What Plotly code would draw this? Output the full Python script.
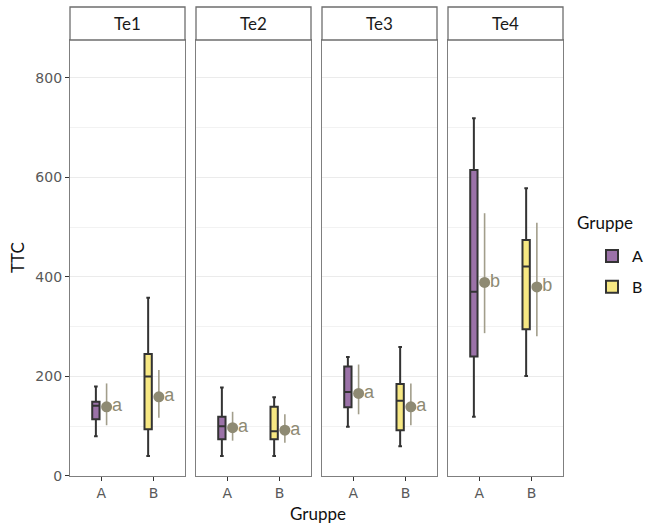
import plotly.graph_objects as go
from plotly.subplots import make_subplots

panels = ["Te1", "Te2", "Te3", "Te4"]
groups = ["A", "B"]
# boxplot stats per panel: [A, B]
lowerfence = [[80, 40], [40, 40], [99, 60], [119, 201]]
q1 = [[114, 94], [74, 74], [138, 92], [240, 295]]
median = [[141, 200], [100, 90], [169, 151], [370, 421]]
q3 = [[149, 245], [119, 139], [220, 185], [615, 474]]
upperfence = [[180, 358], [178, 158], [239, 259], [719, 578]]
# mean +/- interval
means = [[139, 159], [97, 92], [166, 139], [389, 380]]
err_lo = [[102, 117], [71, 67], [124, 102], [287, 281]]
err_hi = [[186, 213], [129, 124], [224, 186], [528, 509]]
letters = [["a", "a"], ["a", "a"], ["a", "a"], ["b", "b"]]

fills = {"A": "#9b72a8", "B": "#f7e883"}
olive = "#8e8a73"
font_main = "Lato, Open Sans, sans-serif"
font_tick = "DejaVu Sans, sans-serif"
font_letter = "Liberation Sans, Arial, sans-serif"

fig = make_subplots(rows=1, cols=4, shared_yaxes=True, horizontal_spacing=0)

for p in range(4):
    for g in range(2):
        xc = g + 1
        fig.add_trace(go.Box(
            x=[xc - 0.105], q1=[q1[p][g]], median=[median[p][g]], q3=[q3[p][g]],
            lowerfence=[lowerfence[p][g]], upperfence=[upperfence[p][g]],
            width=0.14, fillcolor=fills[groups[g]],
            line=dict(color="#333333", width=2),
            name=groups[g], legendgroup=groups[g], showlegend=(p == 0),
            hoverinfo="skip",
        ), row=1, col=p + 1)
        fig.add_trace(go.Scatter(
            x=[xc + 0.1], y=[means[p][g]], mode="markers",
            marker=dict(color=olive, size=11),
            error_y=dict(type="data", symmetric=False,
                         array=[err_hi[p][g] - means[p][g]],
                         arrayminus=[means[p][g] - err_lo[p][g]],
                         color="#a29e8b", thickness=1.6, width=0),
            showlegend=False, hoverinfo="skip",
        ), row=1, col=p + 1)
        fig.add_trace(go.Scatter(
            x=[xc + 0.3], y=[means[p][g]], mode="text", text=[letters[p][g]],
            textfont=dict(color=olive, size=18, family=font_letter),
            textposition="middle center", showlegend=False, hoverinfo="skip",
        ), row=1, col=p + 1)

W = 493.0
H = 469.0
ytop = 0.9296
for i in range(4):
    d0 = (i * 126) / W
    d1 = (i * 126 + 115) / W
    xa = "xaxis" if i == 0 else f"xaxis{i+1}"
    ya = "yaxis" if i == 0 else f"yaxis{i+1}"
    fig.layout[xa].update(
        domain=[d0, d1], range=[0.4, 2.6], tickvals=[1, 2], ticktext=groups,
        showgrid=False, zeroline=False, showline=True, mirror=True,
        linecolor="#7f7f7f", linewidth=1.3, ticks="outside", ticklen=4,
        tickcolor="#333333", tickfont=dict(family=font_tick, size=14, color="#595959"),
    )
    fig.layout[ya].update(
        domain=[0, ytop], range=[0, 876], tickvals=[0, 200, 400, 600, 800],
        showgrid=True, gridcolor="#ebebeb", gridwidth=1, zeroline=False,
        minor=dict(dtick=100, tick0=0, showgrid=True, gridcolor="#f2f2f2", gridwidth=1),
        showline=True, mirror=True, linecolor="#7f7f7f", linewidth=1.3,
        ticks="outside" if i == 0 else "", ticklen=4, tickcolor="#333333",
        tickfont=dict(family=font_tick, size=14, color="#595959"),
        showticklabels=(i == 0),
    )
    fig.add_shape(type="rect", xref="paper", yref="paper", x0=d0, x1=d1, y0=ytop, y1=1.0,
                  fillcolor="white", line=dict(color="#6e6e6e", width=1.3))
    fig.add_annotation(x=(d0 + d1) / 2, y=(ytop + 1) / 2, xref="paper", yref="paper",
                       xanchor="center", yanchor="middle",
                       text=panels[i], showarrow=False,
                       font=dict(family=font_main, size=17, color="#1a1a1a"))

fig.add_annotation(x=(17 - 70) / W, y=ytop / 2, xref="paper", yref="paper", text="TTC",
                   xanchor="center", yanchor="middle",
                   textangle=-90, showarrow=False,
                   font=dict(family=font_main, size=17, color="#111111"))
fig.add_annotation(x=(318 - 70) / W, y=-(513 - 476) / H, xref="paper", yref="paper",
                   text="Gruppe", showarrow=False, xanchor="center", yanchor="middle",
                   font=dict(family=font_main, size=17, color="#111111"))
# legend title
fig.add_annotation(x=(575 - 70) / W, y=1 - (222 - 7) / H, xref="paper", yref="paper",
                   text="Gruppe", showarrow=False, xanchor="left", yanchor="middle",
                   font=dict(family=font_main, size=17, color="#111111"))

fig.update_layout(
    width=645, height=525, margin=dict(l=70, r=82, t=7, b=49),
    paper_bgcolor="white", plot_bgcolor="white",
    legend=dict(xref="container", yref="container",
                x=592 / 645, y=1 - 239 / 525, xanchor="left", yanchor="top",
                font=dict(family=font_main, size=16, color="#111111"),
                tracegroupgap=7, itemwidth=30),
    showlegend=True,
)

fig.write_html("out.html")
